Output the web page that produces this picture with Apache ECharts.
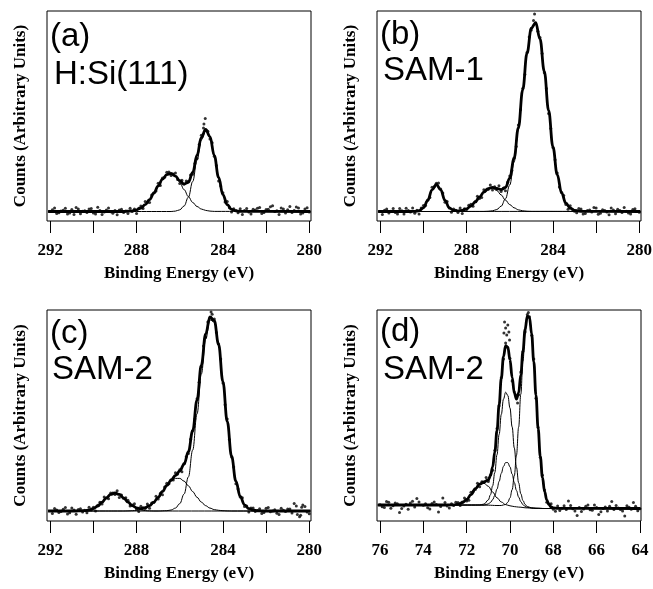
<!DOCTYPE html>
<html><head><meta charset="utf-8">
<script src="https://cdn.jsdelivr.net/npm/echarts@6/dist/echarts.min.js"></script>
<style>html,body{margin:0;padding:0;background:#fff}#chart{width:653px;height:589px}</style>
</head><body><div id="chart"></div>
<script>
// ---- tick values ----
const c1sTicks = [280, 282, 284, 286, 288, 290, 292];
const c1sLabels = [280, 284, 288, 292];
const br3dTicks = [64, 66, 68, 70, 72, 74, 76];
const br3dLabels = [64, 66, 68, 70, 72, 74, 76];
const panelTags = ['(a)', '(b)', '(c)', '(d)'];
const panelNames = ['H:Si(111)', 'SAM-1', 'SAM-2', 'SAM-2'];

// ---- panel (a) H:Si(111) C 1s ----
const aPeak1 = [[292.1,9.5],[286.4,9.5],[286.2,9.9],[286.0,11.2],[285.8,15.0],[285.6,23.8],[285.4,39.5],[285.2,60.8],[285.0,81.0],[284.8,90.4],[284.6,84.0],[284.4,65.2],[284.2,43.5],[284.0,26.3],[283.8,16.3],[283.6,11.7],[283.4,10.1],[283.2,9.6],[279.95,9.5]];
const aPeak2 = [[292.1,9.5],[288.6,9.5],[288.4,9.8],[288.2,10.2],[288.0,11.2],[287.8,13.0],[287.6,16.3],[287.4,21.3],[287.2,27.8],[287.0,35.1],[286.8,41.9],[286.6,46.4],[286.4,47.4],[286.2,44.5],[286.0,38.7],[285.8,31.4],[285.6,24.4],[285.4,18.5],[285.2,14.5],[285.0,12.0],[284.8,10.6],[284.6,9.9],[284.4,9.6],[279.95,9.5]];
const aFit = [[292.1,9.5],[288.6,9.5],[288.4,9.8],[288.2,10.2],[288.0,11.2],[287.8,13.0],[287.6,16.3],[287.4,21.3],[287.2,27.8],[287.0,35.1],[286.8,41.9],[286.6,46.4],[286.4,47.5],[286.2,44.9],[286.0,40.4],[285.8,36.9],[285.6,38.7],[285.4,48.5],[285.2,65.8],[285.0,83.5],[284.8,91.5],[284.6,84.4],[284.4,65.4],[284.2,43.5],[284.0,26.3],[283.8,16.3],[283.6,11.7],[283.4,10.1],[283.2,9.6],[279.95,9.5]];
const aPoints = [[291.9,11.3],[291.8,12.9],[291.7,7.4],[291.6,8.3],[291.5,10.1],[291.4,10.8],[291.3,12.7],[291.2,6.9],[291.1,8.1],[291.0,11.4],[290.9,6.5],[290.8,13.6],[290.7,11.9],[290.6,7.2],[290.5,9.7],[290.4,10.3],[290.3,8.6],[290.2,12.0],[290.1,12.4],[290.0,8.0],[289.9,6.9],[289.8,13.8],[289.7,10.6],[289.6,6.6],[289.5,9.1],[289.4,11.0],[289.3,13.0],[289.2,9.2],[289.1,7.7],
[289.0,10.4],[288.9,6.2],[288.8,11.1],[288.7,11.7],[288.6,8.4],[288.5,9.9],[288.4,7.4],[288.3,12.7],[288.2,9.5],[288.1,11.9],[288.0,7.6],[287.9,12.8],[287.8,15.0],[287.7,12.6],[287.6,19.4],[287.5,18.4],[287.4,18.5],[287.3,25.9],[287.2,28.3],[287.1,30.0],[287.0,37.7],[286.9,35.5],[286.8,42.9],[286.7,43.8],[286.6,48.7],[286.5,49.1],[286.4,45.4],[286.3,47.1],[286.2,48.1],[286.1,41.4],[286.0,37.4],[285.9,40.8],[285.8,37.1],[285.7,39.9],[285.6,39.8],[285.5,46.1],[285.4,46.7],[285.3,57.4],[285.2,62.5],[285.1,76.6],[285.0,85.7],[284.9,93.0],[284.88,97.0],[284.82,102.5],[284.8,90.4],[284.7,89.8],[284.6,82.0],[284.5,78.2],[284.4,64.7],[284.3,55.6],[284.2,39.9],[284.1,35.1],[284.0,28.3],[283.9,18.9],[283.8,19.4],[283.7,13.3],[283.6,8.9],[283.5,12.2],[283.4,10.6],[283.3,8.3],[283.2,12.2],[283.1,6.4],[283.0,10.5],
[282.9,12.6],[282.8,8.9],[282.7,7.0],[282.6,11.8],[282.5,10.9],[282.4,12.8],[282.3,13.4],[282.2,7.4],[282.1,8.4],[282.0,11.6],[281.9,11.7],[281.8,14.2],[281.7,15.2],[281.6,9.6],[281.5,10.2],[281.4,6.5],[281.3,13.1],[281.2,11.9],[281.1,7.9],[281.0,11.2],[280.9,14.4],[280.8,8.6],[280.7,10.5],[280.6,13.9],[280.5,12.9],[280.4,6.9],[280.3,8.1],[280.2,12.1],[280.1,13.3],[280.0,9.1]];

// ---- panel (b) SAM-1 C 1s ----
const bPeak1 = [[292.1,9.5],[287.2,9.5],[287.0,9.7],[286.8,10.2],[286.6,11.5],[286.4,14.8],[286.2,22.1],[286.0,36.0],[285.8,59.0],[285.6,91.6],[285.4,130.4],[285.2,167.5],[285.0,192.7],[284.8,198.3],[284.6,182.1],[284.4,149.7],[284.2,110.5],[284.0,74.1],[283.8,46.3],[283.6,28.1],[283.4,17.8],[283.2,12.8],[283.0,10.7],[282.8,9.9],[282.6,9.6],[279.95,9.5]];
const bPeak2 = [[292.1,9.5],[288.8,9.5],[288.6,9.7],[288.4,10.0],[288.2,10.7],[288.0,12.2],[287.8,15.0],[287.6,19.0],[287.4,24.0],[287.2,28.9],[287.0,32.2],[286.8,32.9],[286.6,30.5],[286.4,26.1],[286.2,20.9],[286.0,16.4],[285.8,13.2],[285.6,11.2],[285.4,10.2],[285.2,9.75],[285.0,9.6],[279.95,9.5]];
const bPeak3 = [[292.1,9.5],[290.6,9.5],[290.4,9.6],[290.2,10.3],[290.0,13.2],[289.8,20.6],[289.6,31.1],[289.4,36.5],[289.2,31.1],[289.0,20.6],[288.8,13.2],[288.6,10.3],[288.4,9.6],[279.95,9.5]];
const bFit = [[292.1,9.5],[290.6,9.5],[290.4,9.6],[290.2,10.3],[290.0,13.2],[289.8,20.6],[289.6,31.1],[289.4,36.5],[289.2,31.1],[289.0,20.6],[288.8,13.2],[288.6,10.5],[288.4,10.1],[288.2,10.7],[288.0,12.2],[287.8,15.0],[287.6,19.0],[287.4,24.0],[287.2,28.9],[287.0,32.4],[286.8,33.6],[286.6,32.5],[286.4,31.4],[286.2,33.5],[286.0,42.9],[285.8,62.7],[285.6,93.3],[285.4,131.1],[285.2,167.8],[285.0,192.8],[284.8,198.3],[284.6,182.1],[284.4,149.7],[284.2,110.5],[284.0,74.1],[283.8,46.3],[283.6,28.1],[283.4,17.8],[283.2,12.8],[283.0,10.7],[282.8,9.9],[282.6,9.6],[279.95,9.5]];
const bPoints = [[291.9,6.5],[291.8,10.8],[291.7,11.9],[291.6,8.0],[291.5,9.7],[291.4,12.6],[291.3,8.6],[291.2,7.1],[291.1,12.4],[291.0,10.2],[290.9,6.9],[290.8,12.8],[290.7,10.6],
[290.6,9.1],[290.5,13.0],[290.4,7.8],[290.3,10.7],[290.2,7.0],[290.1,12.9],[290.0,15.4],[289.9,15.4],[289.8,20.9],[289.7,23.6],[289.6,33.8],[289.5,34.3],[289.4,37.8],[289.3,38.0],[289.2,31.9],[289.1,28.0],[289.0,18.7],[288.9,19.6],[288.8,13.0],[288.7,8.7],[288.6,12.0],[288.5,10.7],[288.4,8.6],[288.3,12.9],[288.2,7.6],[288.1,12.3],[288.0,11.6],[287.9,15.8],[287.8,16.8],[287.7,14.8],[287.6,19.6],[287.5,24.7],[287.4,22.6],[287.3,23.5],[287.2,31.3],[287.1,31.0],[287.0,31.5],[286.9,36.1],[286.8,31.0],[286.7,34.3],[286.6,32.1],[286.5,35.3],[286.4,29.6],[286.3,32.7],[286.2,30.2],[286.1,38.8],[286.0,45.1],[285.9,50.4],[285.8,63.0],[285.7,74.6],[285.6,96.0],[285.5,111.3],[285.4,132.4],[285.3,146.4],[285.2,168.6],[285.1,184.0],[285.0,190.9],[284.9,200.6],[284.85,207.0],[284.8,198.1],[284.7,189.7],[284.6,183.6],[284.5,167.5],[284.4,148.2],[284.3,132.6],[284.2,107.4],[284.1,92.5],[284.0,73.5],[283.9,61.3],[283.8,48.1],[283.7,33.9],[283.6,28.7],[283.5,25.4],[283.4,16.4],[283.3,11.8],[283.2,15.2],[283.1,11.7],[283.0,9.8],
[282.9,8.3],[282.8,12.4],[282.7,12.1],[282.6,6.9],[282.5,7.5],[282.4,10.6],[282.3,10.9],[282.2,9.1],[282.1,13.4],[282.0,13.0],[281.9,6.8],[281.8,7.7],[281.7,11.2],[281.6,10.4],[281.5,9.0],[281.4,6.2],[281.3,12.9],[281.2,11.1],[281.1,7.3],[281.0,11.7],[280.9,10.6],[280.8,8.4],[280.7,13.6],[280.6,9.8],[280.5,8.0],[280.4,7.1],[280.3,11.5],[280.2,12.2],[280.1,9.4],[280.0,8.8]];

// ---- panel (c) SAM-2 C 1s ----
const cPeak1 = [[292.1,10],[287.0,10],[286.6,10.3],[286.4,11.0],[286.2,12.9],[286.0,17.4],[285.8,26.9],[285.6,44.1],[285.4,71.0],[285.2,107.1],[285.0,147.0],[284.8,181.8],[284.6,201.1],[284.4,198.9],[284.2,175.8],[284.0,139.1],[283.8,99.4],[283.6,64.8],[283.4,39.9],[283.2,24.5],[283.0,16.2],[282.8,12.4],[282.6,10.8],[282.4,10.25],[282.2,10],[279.95,10]];
const cPeak2 = [[292.1,10],[288.6,10],[288.4,10.1],[288.2,10.3],[288.0,10.7],[287.8,11.4],[287.6,12.9],[287.4,15.3],[287.2,18.9],[287.0,23.7],[286.8,29.4],[286.6,35.2],[286.4,39.9],[286.2,42.6],[286.0,42.6],[285.8,39.9],[285.6,35.2],[285.4,29.4],[285.2,23.7],[285.0,18.9],[284.8,15.3],[284.6,12.9],[284.4,11.4],[284.2,10.7],[284.0,10.3],[283.8,10.1],[283.6,10],[279.95,10]];
const cPeak3 = [[292.1,10],[290.8,10],[290.6,10.1],[290.4,10.4],[290.2,11.0],[290.0,12.4],[289.8,15.0],[289.6,18.8],[289.4,23.1],[289.2,26.6],[289.0,28.0],[288.8,26.6],[288.6,23.1],[288.4,18.8],[288.2,15.0],[288.0,12.4],[287.8,11.0],[287.6,10.4],[287.4,10.1],[287.2,10],[279.95,10]];
const cFit = [[292.1,10],[290.8,10.0],[290.6,10.1],[290.4,10.4],[290.2,11.0],[290.0,12.4],[289.8,15.0],[289.6,18.8],[289.4,23.1],[289.2,26.6],[289.0,28.0],[288.8,26.6],[288.6,23.1],[288.4,18.9],[288.2,15.3],[288.0,13.1],[287.8,12.4],[287.6,13.3],[287.4,15.4],[287.2,18.9],[287.0,23.7],[286.8,29.5],[286.6,35.5],[286.4,40.9],[286.2,45.5],[286.0,50.0],[285.8,56.8],[285.6,69.3],[285.4,90.4],[285.2,120.8],[285.0,155.9],[284.8,187.1],[284.6,204.0],[284.4,200.3],[284.2,176.5],[284.0,139.4],[283.8,99.5],[283.6,64.8],[283.4,39.9],[283.2,24.5],[283.0,16.2],[282.8,12.4],[282.6,10.8],[282.4,10.25],[282.2,10.0],[279.95,10]];
const cPoints = [[291.9,7.4],[291.8,12.4],[291.7,11.1],[291.6,8.5],[291.5,9.6],[291.4,11.8],[291.3,13.5],[291.2,6.9],[291.1,8.2],[291.0,13.0],[290.9,10.9],
[290.8,6.7],[290.7,11.6],[290.6,12.3],[290.5,9.1],[290.4,10.7],[290.3,8.2],[290.2,13.7],[290.1,10.9],[290.0,13.7],[289.9,10.0],[289.8,15.8],[289.7,18.8],[289.6,16.9],[289.5,24.1],[289.4,22.9],[289.3,22.2],[289.2,28.1],[289.1,28.1],[289.0,26.5],[288.9,30.2],[288.8,23.5],[288.7,26.0],[288.6,22.5],[288.5,23.3],[288.4,20.7],[288.3,14.9],[288.2,15.9],[288.1,17.2],[288.0,11.7],[287.9,9.6],[287.8,14.8],[287.7,12.9],[287.6,12.4],[287.5,17.1],[287.4,12.8],[287.3,18.1],[287.2,18.5],[287.1,24.7],[287.0,21.9],[286.9,27.5],[286.8,26.2],[286.7,34.1],[286.6,37.7],[286.5,37.2],[286.4,41.2],[286.3,40.9],[286.2,48.2],[286.1,47.0],[286.0,51.3],[285.9,49.2],[285.8,57.6],[285.7,64.2],[285.6,67.4],[285.5,81.8],[285.4,90.2],[285.3,102.0],[285.2,122.3],[285.1,138.7],[285.0,154.4],[284.9,175.0],[284.8,184.0],[284.7,199.0],[284.6,203.4],[284.55,209.0],[284.5,206.7],[284.4,202.1],[284.3,188.4],[284.2,177.1],[284.1,162.0],[284.0,138.0],[283.9,116.2],[283.8,101.9],[283.7,81.6],[283.6,63.9],[283.5,53.9],[283.4,37.3],[283.3,32.1],[283.2,24.1],[283.1,23.3],[283.0,14.4],[282.9,14.9],[282.8,9.1],[282.7,13.0],[282.6,13.0],[282.5,9.4],[282.4,10.6],
[282.3,12.2],[282.2,7.6],[282.1,8.6],[282.0,12.7],[281.9,13.4],[281.8,9.3],[281.7,10.0],[281.6,11.3],[281.5,7.7],[281.4,6.4],[281.3,12.8],[281.2,10.8],[281.1,9.5],[281.0,12.0],[280.9,11.9],[280.8,8.1],[280.7,17.5],[280.6,15.1],[280.55,6.5],[280.45,4.2],[280.4,5.8],[280.35,13.8],[280.3,16.0],[280.2,14.6],[280.1,9.0],[280.0,7.2]];

// ---- panel (d) SAM-2 Br 3d ----
const dPeak1 = [[76.1,16],[71.6,16],[71.0,15.8],[70.6,15.5],[70.4,15.5],[70.2,16.6],[70.1,18.75],[70.0,23.1],[69.9,31.3],[69.8,45.2],[69.7,65.9],[69.6,93.8],[69.5,126.8],[69.4,160.0],[69.3,187.4],[69.2,203.0],[69.1,202.9],[69.0,187.0],[68.9,159.3],[68.8,125.8],[68.7,92.55],[68.6,64.4],[68.5,43.45],[68.4,29.3],[68.3,20.9],[68.2,16.4],[68.1,14.1],[68.0,13.1],[67.8,12.55],[63.98,12.5]];
const dPeak2 = [[76.1,16],[71.6,16.0],[71.4,16.1],[71.2,16.9],[71.0,21.0],[70.9,26.35],[70.8,35.2],[70.7,48.5],[70.6,66.2],[70.5,86.6],[70.4,106.6],[70.3,121.85],[70.2,128.8],[70.1,125.55],[70.0,113.0],[69.9,94.1],[69.8,73.0],[69.7,53.7],[69.6,38.2],[69.5,27.3],[69.4,20.5],[69.3,16.5],[69.2,14.5],[69.0,13.1],[68.8,12.7],[68.4,12.5],[63.98,12.5]];
const dPeak3 = [[76.1,16],[71.2,15.9],[71.0,17.1],[70.9,18.55],[70.8,21.3],[70.7,25.6],[70.6,31.9],[70.5,39.6],[70.4,47.7],[70.3,54.55],[70.2,58.5],[70.1,58.35],[70.0,54.1],[69.9,46.9],[69.8,38.5],[69.7,30.5],[69.6,23.9],[69.5,19.3],[69.4,16.3],[69.3,14.6],[69.2,13.6],[69.0,13.0],[68.8,12.7],[68.4,12.5],[63.98,12.5]];
const dPeak4 = [[76.1,16],[73.0,16.0],[72.8,16.1],[72.6,16.2],[72.4,16.8],[72.2,18.4],[72.0,21.5],[71.8,26.4],[71.6,32.3],[71.4,36.8],[71.2,37.8],[71.0,34.7],[70.8,29.0],[70.6,23.2],[70.4,19.0],[70.2,16.4],[70.0,15.2],[69.8,14.4],[69.6,13.9],[69.2,13.1],[68.8,12.7],[68.4,12.5],[63.98,12.5]];
const dFit = [[76.1,16],[73.0,16.0],[72.8,16.1],[72.6,16.2],[72.4,16.8],[72.2,18.4],[72.0,21.5],[71.8,26.4],[71.6,32.3],[71.4,36.8],[71.2,39.0],[71.0,41.2],[70.9,45.3],[70.8,54.1],[70.7,69.0],[70.6,90.3],[70.5,116.3],[70.4,142.9],[70.3,164.3],[70.2,175.3],[70.1,173.9],[70.0,161.3],[69.9,143.6],[69.8,128.2],[69.7,121.9],[69.6,128.1],[69.5,146.0],[69.4,169.8],[69.3,191.9],[69.2,204.9],[69.1,203.7],[69.0,187.3],[68.9,159.3],[68.8,125.8],[68.7,92.6],[68.6,64.4],[68.5,43.5],[68.4,29.3],[68.3,20.9],[68.2,16.4],[68.1,14.1],[68.0,13.1],[67.8,12.55],[63.98,12.5]];
const dPoints = [[76.0,16.3],[75.9,14.2],[75.8,13.6],[75.7,19.4],[75.6,18.7],[75.5,12.8],[75.4,15.3],[75.3,17.9],[75.2,17.3],[75.1,8.5],[75.0,12.4],[74.9,15.0],[74.8,16.8],[74.7,11.8],[74.6,18.0],[74.5,19.8],[74.4,14.1],[74.3,22.5],[74.2,19.1],[74.0,15.8],[73.9,17.2],[73.8,13.2],[73.7,12.0],[73.6,17.5],[73.5,19.0],[73.4,16.5],[73.3,9.0],[73.2,14.5],[73.1,23.0],[73.0,18.6],[72.9,15.1],[72.8,12.9],
[72.7,17.2],[72.6,15.6],[72.5,18.7],[72.4,18.6],[72.3,15.4],[72.2,19.0],[72.1,23.0],[72.0,20.1],[71.9,20.8],[71.8,28.8],[71.7,29.5],[71.6,31.4],[71.5,37.7],[71.4,34.2],[71.3,39.2],[71.2,38.6],[71.1,43.4],[71.0,39.4],[70.9,46.2],[70.8,50.8],[70.7,70.6],[70.6,92.5],[70.5,115.2],[70.4,143.2],[70.3,161.9],[70.28,188.0],[70.25,199.0],[70.2,178.0],[70.2,193.0],[70.15,186.0],[70.1,173.2],[70.1,196.0],[70.05,189.0],[70.02,181.0],[70.0,162.6],[69.9,140.0],[69.8,129.0],[69.7,123.9],[69.65,118.0],[69.6,126.2],[69.5,149.1],[69.4,169.6],[69.3,189.1],[69.2,206.4],[69.15,208.5],[69.1,204.2],[69.0,185.8],[68.9,161.9],[68.8,122.7],[68.7,93.6],[68.6,63.8],[68.5,45.8],[68.4,31.1],[68.3,18.8],[68.2,17.0],[68.1,17.3],[68.0,11.7],[67.9,9.8],
[67.8,14.9],[67.7,10.6],[67.6,12.7],[67.5,15.3],[67.4,11.6],[67.3,20.0],[67.2,15.4],[67.1,12.3],[67.0,9.9],[66.9,5.5],[66.8,13.6],[66.7,9.4],[66.6,12.1],[66.5,14.8],[66.4,16.0],[66.3,11.2],[66.2,10.7],[66.1,16.0],[66.0,13.4],[65.9,6.5],[65.8,9.2],[65.7,12.6],[65.6,14.1],[65.5,9.9],[65.4,14.7],[65.3,19.5],[65.2,11.4],[65.1,15.4],[65.0,13.0],[64.9,11.6],[64.8,10.1],[64.7,5.0],[64.6,15.2],[64.5,13.7],[64.4,11.8],[64.3,18.5],[64.2,14.7],[64.1,10.2],[64.0,12.2]];

// ---- layout ----
const boxes = [
  {left: 47, top: 11, width: 264, height: 210},
  {left: 377, top: 11, width: 264, height: 210},
  {left: 47, top: 310, width: 264, height: 211},
  {left: 377, top: 310, width: 264, height: 211}
];
const tagPos = [[50, 20], [380, 18], [50, 317], [380, 315]];
const namePos = [[54, 58], [383, 54], [52, 353], [383, 353]];

const panels = [
  {range: [279.92, 292.15], ticks: c1sTicks, labels: c1sLabels, fit: aFit, comps: [aPeak1, aPeak2], points: aPoints},
  {range: [279.92, 292.15], ticks: c1sTicks, labels: c1sLabels, fit: bFit, comps: [bPeak1, bPeak2, bPeak3], points: bPoints},
  {range: [279.92, 292.15], ticks: c1sTicks, labels: c1sLabels, fit: cFit, comps: [cPeak1, cPeak2, cPeak3], points: cPoints},
  {range: [63.95, 76.14], ticks: br3dTicks, labels: br3dLabels, fit: dFit, comps: [dPeak1, dPeak2, dPeak3, dPeak4], points: dPoints}
];

const serif = '"Liberation Serif", "Times New Roman", serif';
const sans = '"Liberation Sans", Arial, sans-serif';

const grid = [], xAxis = [], yAxis = [], series = [], graphic = [];
panels.forEach((p, i) => {
  const b = boxes[i];
  grid.push({left: b.left, top: b.top, width: b.width, height: b.height, show: true,
    borderColor: '#000', borderWidth: 1, backgroundColor: 'transparent',
    containLabel: false, outerBoundsMode: 'none'});
  xAxis.push({
    type: 'value', gridIndex: i, inverse: true, min: p.range[0], max: p.range[1],
    axisLine: {show: false},
    axisTick: {show: true, inside: false, length: 12, customValues: p.ticks, lineStyle: {color: '#000', width: 1}},
    axisLabel: {show: true, customValues: p.labels, margin: 21, color: '#000', fontFamily: serif, fontWeight: 'bold', fontSize: 17, hideOverlap: false},
    splitLine: {show: false},
    name: 'Binding Energy (eV)', nameLocation: 'middle', nameGap: 44,
    nameTextStyle: {color: '#000', fontFamily: serif, fontWeight: 'bold', fontSize: 17}
  });
  yAxis.push({
    type: 'value', gridIndex: i, min: 0, max: b.height,
    axisLine: {show: false}, axisTick: {show: false}, axisLabel: {show: false}, splitLine: {show: false},
    name: 'Counts (Arbitrary Units)', nameLocation: 'middle', nameRotate: 90, nameGap: 18,
    nameTextStyle: {color: '#000', fontFamily: serif, fontWeight: 'bold', fontSize: 17}
  });
  p.comps.forEach(c => series.push({
    type: 'line', xAxisIndex: i, yAxisIndex: i, data: c, showSymbol: false, smooth: 0.4, smoothMonotone: 'x',
    lineStyle: {color: '#000', width: 1}, z: 2, silent: true
  }));
  series.push({
    type: 'line', xAxisIndex: i, yAxisIndex: i, data: p.fit, showSymbol: false, smooth: 0.4, smoothMonotone: 'x',
    lineStyle: {color: '#000', width: 2.8}, z: 3, silent: true
  });
  series.push({
    type: 'scatter', xAxisIndex: i, yAxisIndex: i, data: p.points, symbol: 'circle', symbolSize: 3,
    itemStyle: {color: '#000'}, z: 4, silent: true
  });
  graphic.push({type: 'text', left: tagPos[i][0], top: tagPos[i][1], silent: true,
    style: {text: panelTags[i], fill: '#000', font: '33px ' + sans}});
  graphic.push({type: 'text', left: namePos[i][0], top: namePos[i][1], silent: true,
    style: {text: panelNames[i], fill: '#000', font: '33px ' + sans}});
});

const chart = echarts.init(document.getElementById('chart'), null, {renderer: 'canvas'});
chart.setOption({
  backgroundColor: '#fff', animation: false,
  grid, xAxis, yAxis, series, graphic
});
</script>
</body></html>
